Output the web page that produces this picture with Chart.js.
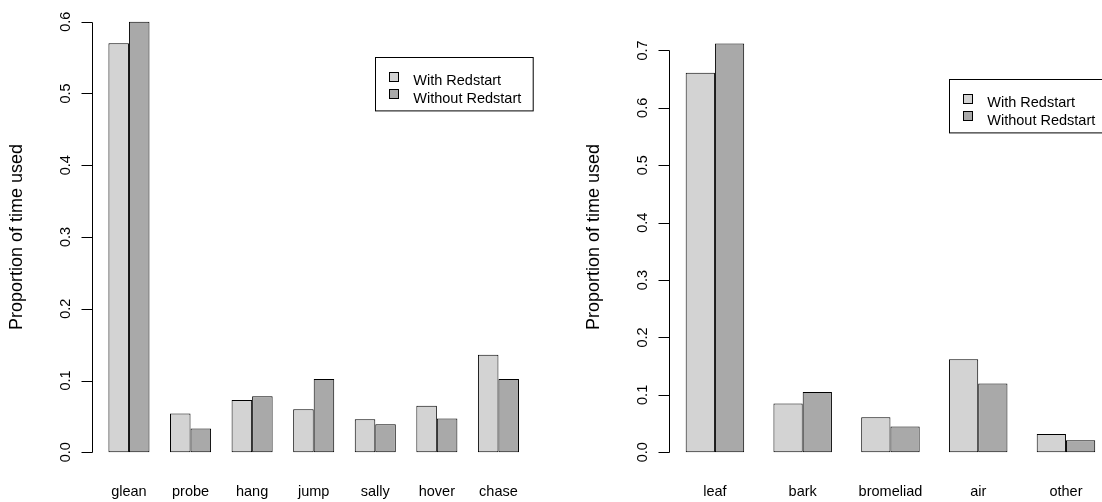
<!DOCTYPE html>
<html>
<head>
<meta charset="utf-8">
<script src="https://cdn.jsdelivr.net/npm/chart.js@4.4.0/dist/chart.umd.min.js"></script>
<style>
  html, body { margin: 0; padding: 0; background: #fff; overflow: hidden; width: 1102px; height: 502px; }
  canvas { position: absolute; top: 0; }
  #maneuverChart { left: 0; }
  #substrateChart { left: 551px; }
</style>
</head>
<body>
<canvas id="maneuverChart" width="551" height="502"></canvas>
<canvas id="substrateChart" width="580" height="502"></canvas>
<script>
const seriesNames = ["With Redstart", "Without Redstart"];
const barColors = ["#d3d3d3", "#a9a9a9"];

// foraging manoeuvres (left panel)
const maneuvers = ["glean", "probe", "hang", "jump", "sally", "hover", "chase"];
const maneuverWith = [0.570, 0.054, 0.073, 0.060, 0.046, 0.065, 0.136];
const maneuverWithout = [0.600, 0.033, 0.078, 0.102, 0.039, 0.047, 0.102];
const maneuverTicks = [0, 0.1, 0.2, 0.3, 0.4, 0.5, 0.6];
const maneuverYLim = [0, 0.6];

// foraging substrates (right panel)
const substrates = ["leaf", "bark", "bromeliad", "air", "other"];
const substrateWith = [0.661, 0.085, 0.061, 0.162, 0.032];
const substrateWithout = [0.712, 0.105, 0.045, 0.120, 0.021];
const substrateTicks = [0, 0.1, 0.2, 0.3, 0.4, 0.5, 0.6, 0.7];
const substrateYLim = [0, 0.75];

const yTitle = "Proportion of time used";
const FONT = "'Liberation Sans', Arial, Helvetica, sans-serif";

// draws the axes, labels and legend the way base R graphics does
const rStyle = {
  id: "rStyle",
  afterDraw(chart, args, opts) {
    const { ctx, chartArea: a, scales: { x, y } } = chart;
    const ax = Math.round(a.left - 0.5) + 0.5;
    ctx.save();
    ctx.strokeStyle = "#000";
    ctx.fillStyle = "#000";
    ctx.lineWidth = 1;

    // y axis line and ticks
    const yt = y.ticks.map((t) => t.value);
    const top = Math.round(y.getPixelForValue(yt[yt.length - 1])) + 0.5;
    const bot = Math.round(y.getPixelForValue(yt[0])) + 0.5;
    ctx.beginPath();
    ctx.moveTo(ax, top);
    ctx.lineTo(ax, bot);
    yt.forEach((v) => {
      const py = Math.round(y.getPixelForValue(v)) + 0.5;
      ctx.moveTo(ax - 11, py);
      ctx.lineTo(ax, py);
    });
    ctx.stroke();

    ctx.font = "14.5px " + FONT;
    ctx.textAlign = "center";
    ctx.textBaseline = "alphabetic";
    yt.forEach((v) => {
      ctx.save();
      ctx.translate(ax - 22.5, y.getPixelForValue(v));
      ctx.rotate(-Math.PI / 2);
      ctx.fillText(v.toFixed(1), 0, 0);
      ctx.restore();
    });

    // category labels
    chart.data.labels.forEach((lab, i) => {
      ctx.fillText(lab, x.getPixelForValue(i), a.bottom + 26.5);
    });

    // axis title
    ctx.save();
    ctx.font = "18px " + FONT;
    ctx.translate(ax - 70.7, (a.top + a.bottom) / 2);
    ctx.rotate(-Math.PI / 2);
    ctx.fillText(yTitle, 0, 0);
    ctx.restore();

    // legend box
    const lx = opts.x, ly = opts.y;
    ctx.strokeRect(Math.round(lx) + 0.5, Math.round(ly) + 0.5, 157.7, 53.4);
    ctx.textAlign = "left";
    chart.data.datasets.forEach((ds, i) => {
      const sy = ly + 14.4 + i * 17.5;
      ctx.fillStyle = ds.backgroundColor;
      ctx.fillRect(Math.round(lx + 14.3) + 0.5, Math.round(sy) + 0.5, 9, 9);
      ctx.strokeRect(Math.round(lx + 14.3) + 0.5, Math.round(sy) + 0.5, 9, 9);
      ctx.fillStyle = "#000";
      ctx.fillText(ds.label, lx + 38.3, ly + 27.7 + i * 17.5);
    });
    ctx.restore();
  },
};

const makePanel = (id, cats, withVals, withoutVals, ticks, ylim, padding, legendPos) => {
  const n = cats.length;
  // R barplot: xlim covers the bars, then 4% extra on each side
  const xlo = -1 / 3, xhi = n - 2 / 3;
  const xext = 0.04 * (xhi - xlo);
  const yext = 0.04 * (ylim[1] - ylim[0]);
  const series = [withVals, withoutVals];

  new Chart(document.getElementById(id).getContext("2d"), {
    type: "bar",
    data: {
      labels: cats,
      datasets: series.map((vals, s) => ({
        label: seriesNames[s],
        data: vals.map((v, i) => ({ x: i, y: v })),
        backgroundColor: barColors[s],
        borderColor: "#000",
        borderWidth: 1,
        borderSkipped: false,
        categoryPercentage: 2 / 3,
        barPercentage: 1,
      })),
    },
    options: {
      responsive: false,
      animation: false,
      devicePixelRatio: 1,
      layout: { padding: padding },
      scales: {
        x: {
          type: "linear",
          display: false,
          offset: false,
          min: xlo - xext,
          max: xhi + xext,
          afterBuildTicks: (s) => {
            s.ticks = cats.map((c, i) => ({ value: i }));
          },
        },
        y: {
          display: false,
          min: ylim[0] - yext,
          max: ylim[1] + yext,
          afterBuildTicks: (s) => {
            s.ticks = ticks.map((v) => ({ value: v }));
          },
        },
      },
      plugins: {
        legend: { display: false },
        tooltip: { enabled: false },
        rStyle: legendPos,
      },
    },
    plugins: [rStyle],
  });
};

makePanel("maneuverChart", maneuvers, maneuverWith, maneuverWithout, maneuverTicks, maneuverYLim,
  { left: 92, right: 15.6, top: 4.5, bottom: 32.5 }, { x: 375, y: 57.3 });
makePanel("substrateChart", substrates, substrateWith, substrateWithout, substrateTicks, substrateYLim,
  { left: 118.3, right: 19.4, top: 4.5, bottom: 32.5 }, { x: 398, y: 79.3 });
</script>
</body>
</html>
